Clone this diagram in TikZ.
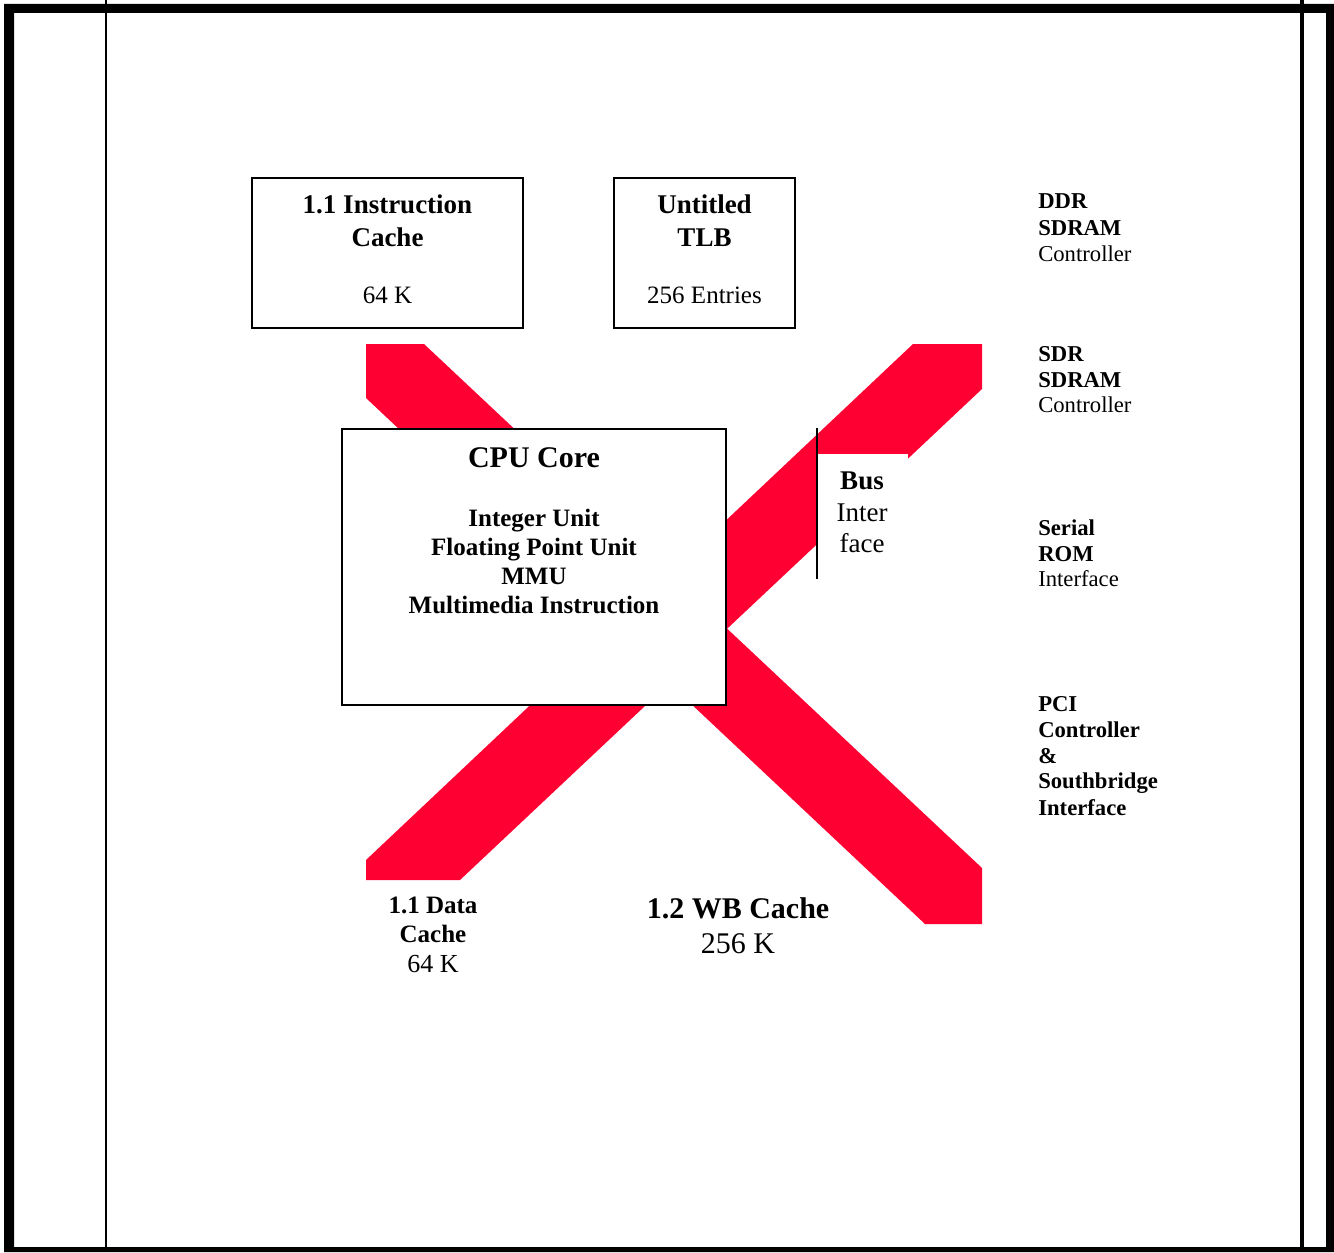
\documentclass[tikz,border=0pt]{standalone}
\usepackage{fontspec}
\setmainfont{Liberation Serif}
\usepackage{tikz}

\begin{document}
\begin{tikzpicture}[x=0.75pt,y=0.75pt,yscale=-1,xscale=1,
  bandfill/.style={fill={rgb, 255:red, 255; green, 0; blue, 51 }},
  boxline/.style={line width=1.5pt},
  ttl/.style={anchor=base,inner sep=0pt,font=\fontsize{20.25}{24}\selectfont\bfseries},
  val/.style={anchor=base,inner sep=0pt,font=\fontsize{18.75}{22}\selectfont},
  cputtl/.style={anchor=base,inner sep=0pt,font=\fontsize{22.5}{27}\selectfont\bfseries},
  cpuitem/.style={anchor=base,inner sep=0pt,font=\fontsize{18.75}{22}\selectfont\bfseries},
  bustxt/.style={anchor=base,inner sep=0pt,font=\fontsize{20.25}{24}\selectfont},
  side/.style={anchor=base west,inner sep=0pt,font=\fontsize{17}{20}\selectfont},
  sidebold/.style={anchor=base west,inner sep=0pt,font=\fontsize{17}{20}\selectfont\bfseries}
]
\useasboundingbox (0,0) rectangle (1334,1252);

%Shape: Frame
\fill[even odd rule] (4,4) rectangle (1334,1252) (14,13) rectangle (1326,1247) ;
%Straight Lines
\draw [line width=1.7pt]   (106,0) -- (106,1247) ;
%Straight Lines
\draw [line width=2.5pt]   (1302,0) -- (1302,1247) ;

%Shape: Polygon (band down-right)
\fill [bandfill] (366,344) -- (424,344) -- (982,868) -- (982,924) -- (925,924) -- (366,398) -- cycle ;
%Shape: Polygon (band up-right)
\fill [bandfill] (366,880) -- (460,880) -- (982,389) -- (982,344) -- (913,344) -- (366,860) -- cycle ;

%Shape: Rectangle (bus interface patch)
\fill [white] (817,454) rectangle (908,600) ;
%Straight Lines
\draw [line width=1.5pt]   (817,428) -- (817,579) ;

%Shape: Rectangle
\draw [boxline, fill=white] (342,429) rectangle (726,705) ;
%Shape: Rectangle
\draw [boxline] (252,178) rectangle (523,328) ;
%Shape: Rectangle
\draw [boxline] (614,178) rectangle (795,328) ;

% Text Node
\draw (387.5,214) node (icttla) [ttl] {1.1 Instruction};
% Text Node
\draw (387.5,246) node (icttlb) [ttl] {Cache};
% Text Node
\draw (387.5,303) node (icsize) [val] {64 K};

% Text Node
\draw (704.5,214) node (tlbttla) [ttl] {Untitled};
% Text Node
\draw (704.5,246) node (tlbttlb) [ttl] {TLB};
% Text Node
\draw (704.5,303) node (tlbsize) [val] {256 Entries};

% Text Node
\draw (534,467) node (cputtl) [cputtl] {CPU Core};
% Text Node
\draw (534,526) node (cpuint) [cpuitem] {Integer Unit};
% Text Node
\draw (534,555) node (cpufpu) [cpuitem] {Floating Point Unit};
% Text Node
\draw (534,584) node (cpummu) [cpuitem] {MMU};
% Text Node
\draw (534,613) node (cpumm) [cpuitem] {Multimedia Instruction};

% Text Node
\draw (862,489) node (busa) [bustxt, font=\fontsize{20.25}{24}\selectfont\bfseries] {Bus};
% Text Node
\draw (862,521) node (busb) [bustxt] {Inter};
% Text Node
\draw (862,552) node (busc) [bustxt] {face};

% Text Node
\draw (1038,209) node (ddra) [sidebold] {DDR};
% Text Node
\draw (1038,235) node (ddrb) [sidebold] {SDRAM};
% Text Node
\draw (1038,261) node (ddrc) [side] {Controller};

% Text Node
\draw (1038,361) node (sdra) [sidebold] {SDR};
% Text Node
\draw (1038,387) node (sdrb) [sidebold] {SDRAM};
% Text Node
\draw (1038,412) node (sdrc) [side] {Controller};

% Text Node
\draw (1038,535) node (roma) [sidebold] {Serial};
% Text Node
\draw (1038,561) node (romb) [sidebold] {ROM};
% Text Node
\draw (1038,586) node (romc) [side] {Interface};

% Text Node
\draw (1038,711) node (pcia) [sidebold] {PCI};
% Text Node
\draw (1038,737) node (pcib) [sidebold] {Controller};
% Text Node
\draw (1038,763) node (pcic) [sidebold] {\&};
% Text Node
\draw (1038,788) node (pcid) [sidebold] {Southbridge};
% Text Node
\draw (1038,815) node (pcie) [sidebold] {Interface};

% Text Node
\draw (433,913) node (dcttla) [cpuitem] {1.1 Data};
% Text Node
\draw (433,942) node (dcttlb) [cpuitem] {Cache};
% Text Node
\draw (433,972) node (dcsize) [val, font=\fontsize{19.5}{23}\selectfont] {64 K};

% Text Node
\draw (738,918) node (wbttl) [cputtl] {1.2 WB Cache};
% Text Node
\draw (738,953) node (wbsize) [val, font=\fontsize{22.5}{27}\selectfont] {256 K};

\end{tikzpicture}
\end{document}
